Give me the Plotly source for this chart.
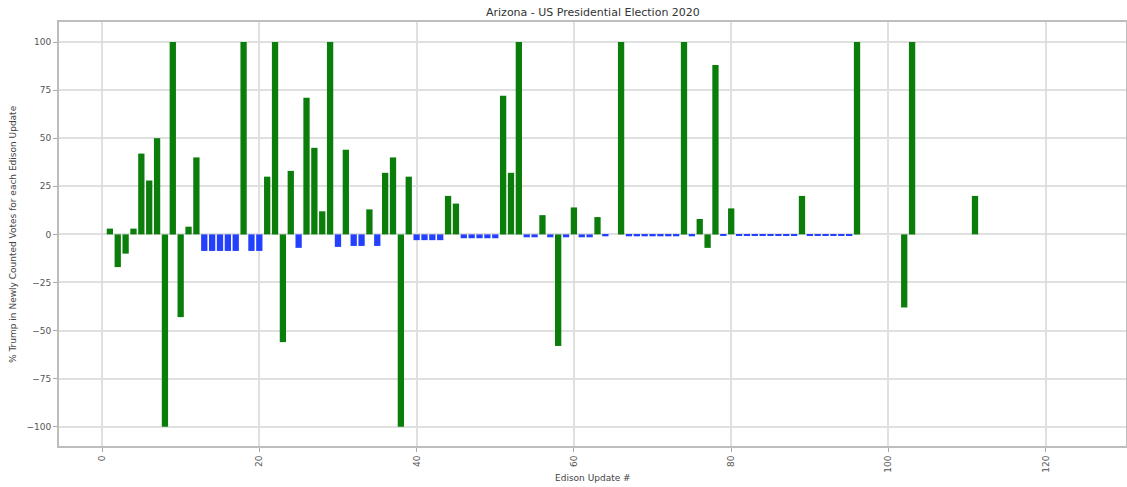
import plotly.graph_objects as go

# Edison update numbers and % Trump in newly counted votes (green series)
green_updates = [1, 2, 3, 4, 5, 6, 7, 8, 9, 10, 11, 12, 18, 21, 22, 23, 24, 26, 27, 28, 29,
                 31, 34, 36, 37, 38, 39, 44, 45, 51, 52, 53, 56, 58, 60, 63, 66, 74, 76, 77,
                 78, 80, 89, 96, 102, 103, 111]
green_values = [3, -17, -10, 3, 42, 28, 50, -100, 100, -43, 4, 40, 100, 30, 100, -56, 33, 71, 45, 12, 100,
                44, 13, 32, 40, -100, 30, 20, 16, 72, 32, 100, 10, -58, 14, 9, 100, 100, 8, -7,
                88, 13.5, 20, 100, -38, 100, 20]

# Small negative updates (blue series)
blue_updates = [13, 14, 15, 16, 17, 19, 20, 25, 30, 32, 33, 35, 40, 41, 42, 43, 46, 47, 48, 49, 50,
                54, 55, 57, 59, 61, 62, 64, 67, 68, 69, 70, 71, 72, 73, 75, 79,
                81, 82, 83, 84, 85, 86, 87, 88, 90, 91, 92, 93, 94, 95]
blue_values = [-8.6, -8.6, -8.6, -8.6, -8.6, -8.6, -8.6, -7, -6.5, -6, -6, -6, -3, -3, -3, -3, -2, -2, -2, -2, -2,
               -1.5, -1.5, -1.5, -1.5, -1.5, -1.5, -1, -1, -1, -1, -1, -1, -1, -1, -1, -0.5,
               -0.5, -0.5, -0.5, -0.5, -0.5, -0.5, -0.5, -0.5, -0.5, -0.5, -0.5, -0.5, -0.5, -0.5]

x_ticks = [0, 20, 40, 60, 80, 100, 120]
y_ticks = [-100, -75, -50, -25, 0, 25, 50, 75, 100]

W, H = 1127, 487
ML, MR, MT, MB = 59, 1, 22, 41

fig = go.Figure()
fig.add_trace(go.Bar(x=green_updates, y=green_values, width=0.8,
                     marker=dict(color="#0b7d0b", line=dict(width=0)), showlegend=False))
fig.add_trace(go.Bar(x=blue_updates, y=blue_values, width=0.8,
                     marker=dict(color="#2340ff", line=dict(width=0)), showlegend=False))

axis_common = dict(
    showgrid=True, gridcolor="#e0e0e0", gridwidth=1.5,
    showline=True, linecolor="#bdbdbd", linewidth=2, mirror=True,
    ticks="outside", ticklen=4, tickcolor="#aaaaaa", tickwidth=1,
    zeroline=False, automargin=False,
    tickfont=dict(family="DejaVu Sans", size=9, color="#555555"),
)

fig.update_layout(
    width=W, height=H,
    margin=dict(l=ML, r=MR, t=MT, b=MB, autoexpand=False),
    paper_bgcolor="white", plot_bgcolor="white",
    barmode="overlay",
    font=dict(family="DejaVu Sans", color="#444444"),
    xaxis=dict(range=[-5.47, 130.2], tickvals=x_ticks, ticktext=[str(v) for v in x_ticks],
               tickangle=-90, **axis_common),
    yaxis=dict(range=[-110, 110.4], tickvals=y_ticks,
               ticktext=[str(v).replace("-", "\u2212") for v in y_ticks],
               **axis_common),
    annotations=[
        dict(text="Arizona - US Presidential Election 2020", xref="paper", yref="paper",
             x=0.5, y=1, yshift=10, xanchor="center", yanchor="middle", showarrow=False,
             font=dict(size=11, color="#333333")),
        dict(text="Edison Update #", xref="paper", yref="paper",
             x=0.5, y=0, yshift=-(478 - (H - MB)), xanchor="center", yanchor="middle",
             showarrow=False, font=dict(size=9, color="#444444")),
        dict(text="% Trump in Newly Counted Votes for each Edison Update", xref="paper", yref="paper",
             x=0, y=0.5, xshift=-(ML - 13), xanchor="center", yanchor="middle", textangle=-90,
             showarrow=False, font=dict(size=9, color="#444444")),
    ],
)

fig.write_html("out.html", config={"displayModeBar": False},
               post_script="document.body.style.margin='0px';document.body.style.overflow='hidden';")
